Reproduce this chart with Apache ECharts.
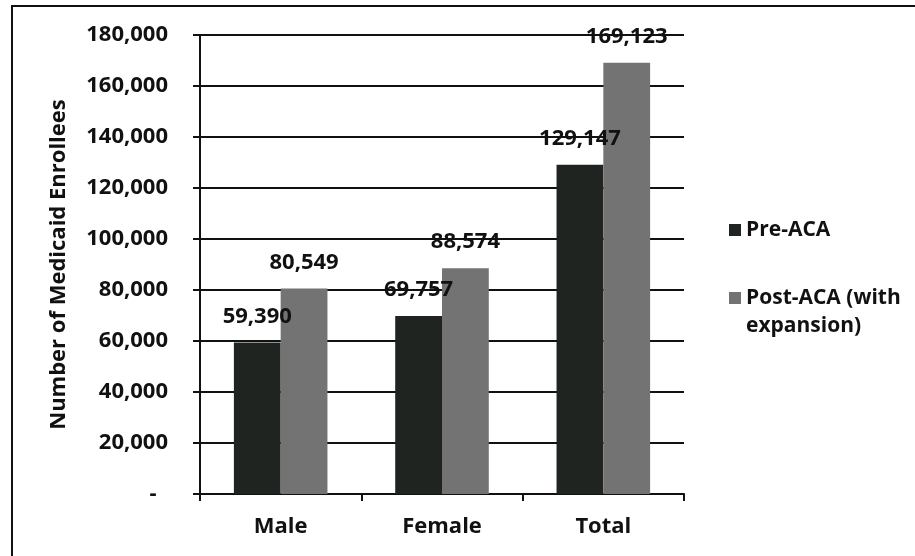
<!DOCTYPE html>
<html>
<head>
<meta charset="utf-8">
<script src="https://cdn.jsdelivr.net/npm/echarts@6/dist/echarts.min.js"></script>
<style>
  html, body { margin: 0; padding: 0; background: #fff; }
  #chart { width: 915px; height: 556px; }
</style>
</head>
<body>
<div id="chart"></div>
<script>
const categories = ['Male', 'Female', 'Total'];
const preAca = [59390, 69757, 129147];
const postAca = [80549, 88574, 169123];
const seriesNames = ['Pre-ACA', 'Post-ACA (with expansion)'];

const FONT = 'Open Sans';
const fmt = (v) => (v === 0 ? '-  ' : v.toLocaleString('en-US'));

const chart = echarts.init(document.getElementById('chart'));

const labelStyle = {
  show: true,
  position: 'top',
  distance: 15,
  color: '#111',
  fontFamily: FONT,
  fontWeight: 'bold',
  fontSize: 22,
  formatter: (p) => fmt(p.value),
};

chart.setOption({
  animation: false,
  backgroundColor: '#fff',
  graphic: [
    {
      type: 'rect',
      shape: { x: 12, y: 6, width: 960, height: 600 },
      style: { fill: 'none', stroke: '#111', lineWidth: 2 },
      silent: true,
    },
  ],
  grid: { left: 200, right: 231, top: 35, bottom: 62 },
  legend: {
    orient: 'vertical',
    left: 724,
    top: 211,
    itemWidth: 12,
    itemHeight: 12,
    itemGap: 12,
    icon: 'rect',
    textStyle: {
      fontFamily: FONT,
      fontWeight: 'bold',
      fontSize: 21,
      color: '#111',
      lineHeight: 28,
    },
    formatter: (name) =>
      name === seriesNames[1] ? '\nPost-ACA (with\nexpansion)' : name,
  },
  xAxis: {
    type: 'category',
    data: categories,
    axisLine: { lineStyle: { color: '#111', width: 2 } },
    axisTick: { show: true, length: 7, lineStyle: { color: '#111', width: 2 } },
    axisLabel: {
      margin: 22,
      color: '#111',
      fontFamily: FONT,
      fontWeight: 'bold',
      fontSize: 22,
    },
  },
  yAxis: {
    type: 'value',
    min: 0,
    max: 180000,
    interval: 20000,
    name: 'Number of Medicaid Enrollees',
    nameLocation: 'middle',
    nameGap: 130,
    nameTextStyle: {
      color: '#111',
      fontFamily: FONT,
      fontWeight: 'bold',
      fontSize: 22,
    },
    axisLine: { show: true, lineStyle: { color: '#111', width: 2 } },
    axisTick: { show: true, length: 7, lineStyle: { color: '#111', width: 2 } },
    splitLine: { lineStyle: { color: '#111', width: 2 } },
    axisLabel: {
      margin: 32,
      color: '#111',
      fontFamily: FONT,
      fontWeight: 'bold',
      fontSize: 22,
      formatter: fmt,
    },
  },
  series: [
    {
      name: seriesNames[0],
      type: 'bar',
      data: preAca,
      barGap: '0%',
      barCategoryGap: '42%',
      itemStyle: { color: '#1f2420' },
      label: labelStyle,
    },
    {
      name: seriesNames[1],
      type: 'bar',
      data: postAca,
      itemStyle: { color: '#737373' },
      label: labelStyle,
    },
  ],
});
</script>
</body>
</html>
